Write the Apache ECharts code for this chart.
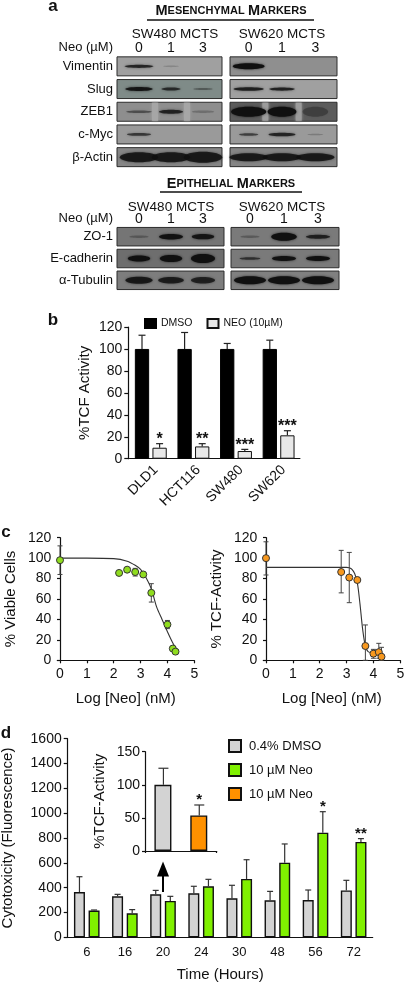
<!DOCTYPE html>
<html><head><meta charset="utf-8">
<style>html,body{margin:0;padding:0;background:#fff}#c{width:405px;height:983px}</style>
<script src="https://cdn.jsdelivr.net/npm/echarts@6/dist/echarts.min.js"></script>
</head><body><div id="c"></div>
<script>
// ---- panel a: blots ----
const lanes = ['0', '1', '3'];
const mesRows = ['Vimentin', 'Slug', 'ZEB1', 'c-Myc', 'β-Actin'];
const epiRows = ['ZO-1', 'E-cadherin', 'α-Tubulin'];
// band density per row/lane
const mes480 = [[.75,.08,0],[.9,.7,.3],[.4,.75,.15],[.6,0,0],[.82,.82,.82]];
const mes620 = [[1,0,0],[.8,.8,0],[1,1,.25],[.55,.75,.12],[.82,.82,.82]];
const epi480 = [[.2,.95,.9],[1,1,1],[.85,.8,.75]];
const epi620 = [[.2,1,.75],[.6,.95,.95],[1,1,1]];
// band breadth per row/lane
const mes480W = [[.9,.5,0],[.85,.6,.6],[.8,.75,.7],[.75,0,0],[1.2,1.2,1.2]];
const mes620W = [[1,0,0],[.95,.8,0],[1.1,.9,.8],[.6,.85,.5],[1.2,1.2,1.2]];
const epi480W = [[.6,.75,.7],[.7,.7,.75],[.85,.8,.75]];
const epi620W = [[.6,.8,.75],[.65,.75,.75],[1,1,1]];
// band thickness per row/lane
const mes480T = [[1.6,.8,0],[2,1.5,1],[1.3,2,1.2],[1.4,0,0],[5,5,5.5]];
const mes620T = [[3,0,0],[1.8,1.6,0],[5,5,5],[1.3,1.8,.8],[4,4,4]];
const epi480T = [[1.2,2.8,2.6],[3,3.5,4.5],[3.5,3.2,3.2]];
const epi620T = [[1.2,4,2],[1.3,2.5,2.5],[4,4,4]];
const mes480Bg = ['#a0a0a0','#7f8b88','#8e8e8e','#9a9a9a','#868686'];
const mes620Bg = ['#8f8f8f','#a0a0a0','#5c5c5c','#9a9a9a','#858585'];
const epi480Bg = ['#757575','#6e6e6e','#7d7d7d'];
const epi620Bg = ['#7a7a7a','#7a7a7a','#808080'];
// lighter lane gaps on the ZEB1 strips
const mes480GapColor = [null, null, '#a6a6a6', null, null];
const mes620GapColor = [null, null, '#9c9c9c', null, null];
// ---- panel b ----
const tcfCats = ['DLD1', 'HCT116', 'SW480', 'SW620'];
const tcfDmso = [100, 100, 100, 100];
const tcfDmsoTop = [112.5, 115, 105, 108];
const tcfNeo = [10, 11.2, 7, 21.3];
const tcfNeoTop = [13.7, 13.7, 8.5, 25.5];
const tcfStars = ['*', '**', '***', '***'];
// ---- panel c ----
const viableX = [0, 2.2, 2.5, 2.8, 3.1, 3.4, 4.0, 4.2, 4.3];
const viableY = [98, 85.5, 88.7, 86.4, 84, 66, 35, 11.5, 8.5];
const viableLow = [84, null, null, 82.5, 83, 57, 31, null, null];
const viableHigh = [112, null, null, 90, 85, 75, 39, null, null];
const viableFitX = [0, 1, 2, 2.5, 2.8, 3.0, 3.2, 3.4, 3.6, 3.8, 4.0, 4.2, 4.3];
const viableFitY = [100, 100, 99.5, 97, 93, 89, 81, 70, 52, 40, 28, 17, 13];
const tcfDoseX = [0, 2.8, 3.1, 3.4, 3.7, 4.0, 4.2, 4.3];
const tcfDoseY = [100, 86.4, 81, 78.6, 14, 6.5, 8, 3.5];
const tcfDoseLow = [83.5, 66, 56.4, null, 0, 2, 2, 0];
const tcfDoseHigh = [116, 107.6, 105.6, null, 34.6, 10.7, 16.6, 12.7];
const tcfFitX = [0, 3.0, 3.1, 3.2, 3.3, 3.4, 3.5, 3.6, 3.7, 3.8, 4.0, 4.3];
const tcfFitY = [91, 91, 90.5, 89, 85, 76, 55, 30, 14, 8.5, 7, 6];
const axisTicks = [0, 1, 2, 3, 4, 5];
// ---- panel d ----
const hours = ['6', '16', '20', '24', '30', '48', '56', '72'];
const cytoDmso = [365, 330, 346, 354, 314, 298, 300, 378];
const cytoDmsoTop = [488, 346, 378, 411, 419, 370, 381, 459];
const cytoNeo = [215, 193, 293, 411, 470, 601, 843, 768];
const cytoNeoTop = [220, 223, 330, 467, 625, 752, 1012, 795];
const cytoStars = ['', '', '', '', '', '', '*', '**'];
const insetCats = ['DMSO', 'Neo'];
const insetDmso = [100, null];
const insetNeo = [null, 53.8];
const insetTop = [125, 69.5];
const insetStars = ['', '*'];
const arrowSpan = [365, 550];

const FONT = '"Liberation Sans", Arial, sans-serif';
const AX = {color: '#111', width: 1.2};
const GRAY = '#d3d3d3', GREEN = '#80f000', ORANGE = '#ff9100';
const plain = v => String(v);

const grid = [], xAxis = [], yAxis = [], series = [];
const addGrid = g => { grid.push(Object.assign({outerBoundsMode: 'none', containLabel: false}, g)); return grid.length - 1; };

function addBlot(left, top, width, height, rows, showRows, dens, breadth, thick, bg, gapColor, extL, extR, rowH) {
  const gi = addGrid({left, top, width, height});
  xAxis.push({gridIndex: gi, type: 'category', position: 'top', data: lanes, boundaryGap: true,
    axisLine: {show: false}, axisTick: {show: false},
    axisLabel: {color: '#111', fontSize: 14, fontFamily: FONT, margin: 0}});
  yAxis.push({gridIndex: gi, type: 'category', inverse: true, data: rows,
    axisLine: {show: false}, axisTick: {show: false},
    axisLabel: {show: showRows, color: '#111', fontSize: 13, fontFamily: FONT, margin: 10}});
  const cells = [];
  rows.forEach((r, ri) => lanes.forEach((l, li) => cells.push([li, ri, dens[ri][li], breadth[ri][li], thick[ri][li]])));
  series.push({
    type: 'custom', xAxisIndex: gi, yAxisIndex: gi, data: rows.map((r, i) => [0, i]), z: 2, silent: true,
    clip: false,
    renderItem(p, api) {
      const i = api.value(1), c = api.coord([1, i]), m0 = api.coord([0, i])[0], m2 = api.coord([2, i])[0];
      const kids = [{type: 'rect', shape: {x: left - extL, y: c[1] - rowH / 2, width: width + extL + extR, height: rowH},
        style: {fill: bg[i], stroke: '#2c2c2c', lineWidth: 1}}];
      if (gapColor && gapColor[i]) [(m0 + c[0]) / 2, (c[0] + m2) / 2].forEach(x => kids.push({
        type: 'rect', shape: {x: x - 3, y: c[1] - rowH / 2 + .5, width: 6, height: rowH - 1},
        style: {fill: gapColor[i], shadowBlur: 3, shadowColor: gapColor[i]}}));
      return {type: 'group', children: kids};
    }
  });
  series.push({
    type: 'custom', xAxisIndex: gi, yAxisIndex: gi, data: cells, z: 3, silent: true, clip: false,
    encode: {x: 0, y: 1},
    renderItem(p, api) {
      const d = api.value(2), w = api.value(3), t = api.value(4), c = api.coord([api.value(0), api.value(1)]);
      if (!d) return {type: 'group', children: []};
      return {type: 'ellipse', shape: {cx: c[0], cy: c[1], rx: 16 * w, ry: t},
        style: {fill: `rgba(16,16,16,${Math.min(1, .1 + d * .9)})`,
          shadowBlur: 2.5, shadowColor: `rgba(16,16,16,${d * .8})`}};
    }
  });
}
addBlot(123, 55, 96, 113.5, mesRows, true, mes480, mes480W, mes480T, mes480Bg, mes480GapColor, 6, 3, 19);
addBlot(232, 55, 100, 113.5, mesRows, false, mes620, mes620W, mes620T, mes620Bg, mes620GapColor, 2, 5, 19);
addBlot(123, 225.8, 96, 65.4, epiRows, true, epi480, epi480W, epi480T, epi480Bg, null, 6, 5, 18.5);
addBlot(233, 225.8, 102, 65.4, epiRows, false, epi620, epi620W, epi620T, epi620Bg, null, 2, 4, 18.5);

function errorBars(gi, tops, bases, offset, stars, color, capW, starSize, starGap) {
  series.push({
    type: 'custom', xAxisIndex: gi, yAxisIndex: gi, z: 4, silent: true,
    data: tops.map((t, i) => [i, bases[i], t]),
    renderItem(p, api) {
      const i = api.value(0), a = api.coord([i, api.value(1)]), b = api.coord([i, api.value(2)]);
      const x = a[0] + offset;
      const kids = [
        {type: 'line', shape: {x1: x, y1: a[1], x2: x, y2: b[1]}, style: {stroke: color, lineWidth: 1.2}},
        {type: 'line', shape: {x1: x - capW, y1: b[1], x2: x + capW, y2: b[1]}, style: {stroke: color, lineWidth: 1.2}}
      ];
      const s = stars[i];
      if (s) kids.push({type: 'text', style: {text: s, x, y: b[1] - starGap, align: 'center', verticalAlign: 'middle',
        fill: '#111', font: `bold ${starSize}px ${FONT}`}});
      return {type: 'group', children: kids};
    }
  });
}

// panel b
const gb = addGrid({left: 129.5, top: 327, width: 170.4, height: 131.7});
xAxis.push({gridIndex: gb, type: 'category', data: tcfCats,
  axisLine: {lineStyle: AX}, axisTick: {alignWithLabel: true, length: 4, lineStyle: AX},
  axisLabel: {rotate: 45, verticalAlign: 'top', color: '#111', fontSize: 14, fontFamily: FONT, margin: 4, interval: 0}});
yAxis.push({gridIndex: gb, type: 'value', min: 0, max: 120, interval: 20, offset: 1.2,
  name: '%TCF Activity', nameLocation: 'middle', nameGap: 36, nameTextStyle: {color: '#111', fontSize: 15, fontFamily: FONT},
  splitLine: {show: false}, axisLine: {show: true, lineStyle: AX}, axisTick: {show: true, length: 4, lineStyle: AX},
  axisLabel: {color: '#111', fontSize: 14, fontFamily: FONT, margin: 6, formatter: plain}});
series.push({name: 'DMSO', type: 'bar', xAxisIndex: gb, yAxisIndex: gb, data: tcfDmso, barWidth: 14.3, barGap: '23%',
  itemStyle: {color: '#000', borderColor: '#000', borderWidth: 1}});
series.push({name: 'NEO (10µM)', type: 'bar', xAxisIndex: gb, yAxisIndex: gb, data: tcfNeo, barWidth: 14.3,
  itemStyle: {color: '#e8e8e8', borderColor: '#111', borderWidth: 1}});
errorBars(gb, tcfDmsoTop, tcfDmso, -8.8, ['', '', '', ''], '#222', 3.5, 16, 6);
errorBars(gb, tcfNeoTop, tcfNeo, 8.8, tcfStars, '#222', 3.5, 16, 4);

// panel c
function addDose(left, xs, ys, low, high, fitX, fitY, color, name, nameGap) {
  const gi = addGrid({left, top: 537.7, width: 137, height: 122.6});
  xAxis.push({gridIndex: gi, type: 'value', min: -0.1, max: 5,
    name: 'Log [Neo] (nM)', nameLocation: 'middle', nameGap: 31, nameTextStyle: {color: '#111', fontSize: 15, fontFamily: FONT},
    splitLine: {show: false}, axisLine: {onZero: false, lineStyle: AX},
    axisTick: {length: 3, lineStyle: AX, customValues: axisTicks},
    axisLabel: {color: '#111', fontSize: 14, fontFamily: FONT, margin: 7, customValues: axisTicks}});
  yAxis.push({gridIndex: gi, type: 'value', min: 0, max: 120, interval: 20,
    name, nameLocation: 'middle', nameGap, nameTextStyle: {color: '#111', fontSize: 15, fontFamily: FONT},
    splitLine: {show: false}, axisLine: {show: true, lineStyle: AX}, axisTick: {show: true, length: 3, lineStyle: AX},
    axisLabel: {color: '#111', fontSize: 14, fontFamily: FONT, margin: 6, formatter: plain}});
  series.push({type: 'line', xAxisIndex: gi, yAxisIndex: gi, data: fitX.map((x, i) => [x, fitY[i]]), smooth: .3,
    showSymbol: false, symbol: 'none', lineStyle: {color: '#333', width: 1.1}, silent: true, z: 3});
  series.push({type: 'custom', xAxisIndex: gi, yAxisIndex: gi, silent: true, z: 4, clip: false,
    data: xs.map((x, i) => [x, low[i], high[i]]).filter(d => d[1] !== null),
    renderItem(p, api) {
      const x = api.value(0), a = api.coord([x, api.value(1)]), b = api.coord([x, api.value(2)]);
      const st = {stroke: '#444', lineWidth: 1};
      return {type: 'group', children: [
        {type: 'line', shape: {x1: a[0], y1: a[1], x2: a[0], y2: b[1]}, style: st},
        {type: 'line', shape: {x1: a[0] - 2.5, y1: a[1], x2: a[0] + 2.5, y2: a[1]}, style: st},
        {type: 'line', shape: {x1: a[0] - 2.5, y1: b[1], x2: a[0] + 2.5, y2: b[1]}, style: st}
      ]};
    }});
  series.push({type: 'scatter', xAxisIndex: gi, yAxisIndex: gi, data: xs.map((x, i) => [x, ys[i]]), symbolSize: 7, z: 5, clip: false,
    itemStyle: {color, borderColor: '#333', borderWidth: 1, opacity: 1}});
}
addDose(57.3, viableX, viableY, viableLow, viableHigh, viableFitX, viableFitY, '#8fdc1e', '% Viable Cells', 38.5);
addDose(263.3, tcfDoseX, tcfDoseY, tcfDoseLow, tcfDoseHigh, tcfFitX, tcfFitY, '#f7981e', '% TCF-Activity', 38.5);

// panel d
const gd = addGrid({left: 67.7, top: 738.7, width: 305, height: 198.6});
xAxis.push({gridIndex: gd, type: 'category', data: hours,
  name: 'Time (Hours)', nameLocation: 'middle', nameGap: 30.5, nameTextStyle: {color: '#111', fontSize: 15, fontFamily: FONT},
  axisLine: {lineStyle: AX}, axisTick: {show: false},
  axisLabel: {color: '#111', fontSize: 13, fontFamily: FONT, margin: 9, interval: 0}});
yAxis.push({gridIndex: gd, type: 'value', min: 0, max: 1600, interval: 200,
  name: 'Cytotoxicity (Fluorescence)', nameLocation: 'middle', nameGap: 52, nameTextStyle: {color: '#111', fontSize: 15, fontFamily: FONT},
  splitLine: {show: false}, axisLine: {show: true, lineStyle: AX}, axisTick: {show: true, length: 4, lineStyle: AX},
  axisLabel: {color: '#111', fontSize: 14, fontFamily: FONT, margin: 6, formatter: plain}});
series.push({name: '0.4% DMSO', type: 'bar', xAxisIndex: gd, yAxisIndex: gd, data: cytoDmso, barWidth: 11, barGap: '33%',
  itemStyle: {color: GRAY, borderColor: '#111', borderWidth: 1.4}});
series.push({name: '10 µM Neo', type: 'bar', xAxisIndex: gd, yAxisIndex: gd, data: cytoNeo, barWidth: 11,
  itemStyle: {color: GREEN, borderColor: '#111', borderWidth: 1.4}});
series.push({type: 'line', xAxisIndex: gd, yAxisIndex: gd, data: hours.map(() => null), silent: true, symbol: 'none',
  markLine: {silent: true, animation: false, symbol: ['none', 'triangle'], symbolSize: [12, 15], label: {show: false},
    lineStyle: {color: '#000', width: 2, type: 'solid'},
    data: [[{coord: ['20', arrowSpan[0]]}, {coord: ['20', arrowSpan[1]]}]]}});
errorBars(gd, cytoDmsoTop, cytoDmso, -7.3, cytoStars.map(() => ''), '#333', 3, 15, 5);
errorBars(gd, cytoNeoTop, cytoNeo, 7.3, cytoStars, '#333', 3, 15, 5);

// inset
const gi = addGrid({left: 145, top: 751.7, width: 71.7, height: 99.3});
xAxis.push({gridIndex: gi, type: 'category', data: insetCats, axisLine: {lineStyle: AX},
  axisTick: {show: true, length: 2, alignWithLabel: false, lineStyle: AX, interval: i => i === 1}, axisLabel: {show: false}});
yAxis.push({gridIndex: gi, type: 'value', min: 0, max: 150, interval: 50,
  name: '%TCF-Activity', nameLocation: 'middle', nameGap: 38, nameTextStyle: {color: '#111', fontSize: 15, fontFamily: FONT},
  splitLine: {show: false}, axisLine: {show: true, lineStyle: AX}, axisTick: {show: true, length: 3, lineStyle: AX},
  axisLabel: {color: '#111', fontSize: 14, fontFamily: FONT, margin: 5, formatter: plain}});
series.push({name: '0.4% DMSO', type: 'bar', xAxisIndex: gi, yAxisIndex: gi, data: insetDmso, barWidth: 17, barGap: '-100%',
  itemStyle: {color: GRAY, borderColor: '#111', borderWidth: 1.4}});
series.push({name: '10 µM Neo ', type: 'bar', xAxisIndex: gi, yAxisIndex: gi, data: insetNeo, barWidth: 17,
  itemStyle: {color: ORANGE, borderColor: '#111', borderWidth: 1.4}});
errorBars(gi, insetTop, [100, 53.8], 0.5, insetStars, '#333', 5, 15, 5);

const txt = (text, x, y, size, align, weight) => ({type: 'text', silent: true, x, y,
  style: {text, fill: '#111', align: align || 'center', verticalAlign: 'middle',
    font: `${weight || 'normal'} ${size}px ${FONT}`}});
const capsTitle = (text, x, y) => ({type: 'text', silent: true, x, y, style: {text, align: 'center', verticalAlign: 'middle',
  fill: '#111', fontFamily: FONT, rich: {
    a: {fontSize: 14.5, fontWeight: 'bold', fontFamily: FONT, fill: '#111', color: '#111'},
    b: {fontSize: 11, fontWeight: 'bold', fontFamily: FONT, fill: '#111', color: '#111'}}}});
const rule = (x1, x2, y) => ({type: 'line', silent: true, shape: {x1, y1: y, x2, y2: y}, style: {stroke: '#111', lineWidth: 1.4}});

const option = {
  animation: false, backgroundColor: '#fff', textStyle: {fontFamily: FONT},
  grid, xAxis, yAxis, series,
  legend: [
    {data: [{name: 'DMSO', icon: 'rect'}, {name: 'NEO (10µM)', icon: 'rect'}], left: 139, top: 313, itemWidth: 11, itemHeight: 9, itemGap: 14,
      selectedMode: false, textStyle: {fontSize: 10.5, color: '#111', fontFamily: FONT, padding: [0, 0, 0, 0]}},
    {data: [{name: '0.4% DMSO', icon: 'rect'}, {name: '10 µM Neo', icon: 'rect'}, {name: '10 µM Neo ', icon: 'rect'}], orient: 'vertical', left: 223, top: 734, itemWidth: 12, itemHeight: 12, itemGap: 10,
      selectedMode: false, textStyle: {fontSize: 13, color: '#111', fontFamily: FONT, padding: [0, 0, 0, 3]}}
  ],
  graphic: {elements: [
    txt('a', 53, 6, 17, 'center', 'bold'), txt('b', 53, 320, 17, 'center', 'bold'),
    txt('c', 6, 532, 17, 'center', 'bold'), txt('d', 6, 733, 17, 'center', 'bold'),
    capsTitle('{a|M}{b|ESENCHYMAL} {a|M}{b|ARKERS}', 231, 11), rule(147, 314, 20),
    capsTitle('{a|E}{b|PITHELIAL} {a|M}{b|ARKERS}', 231, 184), rule(160, 302, 192),
    txt('SW480 MCTS', 175, 34, 13.5), txt('SW620 MCTS', 282, 34, 13.5),
    txt('SW480 MCTS', 171, 207, 13.5), txt('SW620 MCTS', 282, 207, 13.5),
    txt('Neo (µM)', 113, 47, 13, 'right'), txt('Neo (µM)', 113, 218, 13, 'right')
  ]}
};
const chart = echarts.init(document.getElementById('c'), null, {renderer: 'canvas'});
chart.setOption(option);
</script></body></html>
